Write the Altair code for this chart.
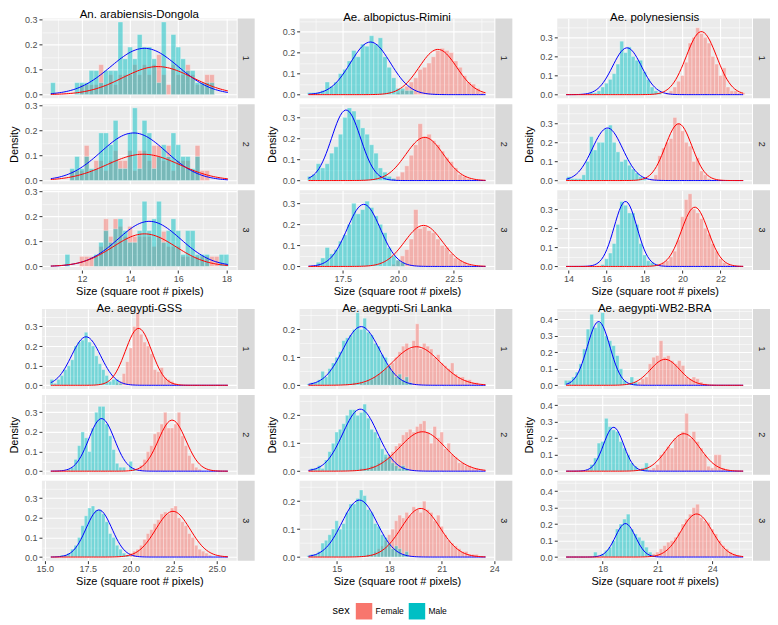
import altair as alt
import pandas as pd

FONT = "Liberation Sans"
BW = 0.2          # histogram bin width
W, H = 195, 80    # plot area of one facet row

titles = ["An. arabiensis-Dongola", "Ae. albopictus-Rimini", "Ae. polynesiensis",
          "Ae. aegypti-GSS", "Ae. aegypti-Sri Lanka", "Ae. aegypti-WB2-BRA"]
reps = ["1", "2", "3"]
sexes = ["Female", "Male"]

# data extent of each panel (x)
x_lo = [10.71, 15.95, 13.87, 15.35, 13.39, 16.0]
x_hi = [18.06, 23.95, 23.2, 25.64, 23.5, 25.7]
x_major = [[12, 14, 16, 18], [17.5, 20, 22.5], [14, 16, 18, 20, 22],
           [15, 17.5, 20, 22.5, 25], [15, 18, 21, 24], [18, 21, 24]]
x_minor = [[11, 13, 15, 17], [16.25, 18.75, 21.25, 23.75], [15, 17, 19, 21, 23],
           [16.25, 18.75, 21.25, 23.75], [13.5, 16.5, 19.5, 22.5], [16.5, 19.5, 22.5, 25.5]]
x_fmt = ["d", ".1f", "d", ".1f", "d", "d"]
y_major = [[0, 0.1, 0.2, 0.3], [0, 0.1, 0.2, 0.3], [0, 0.1, 0.2, 0.3],
           [0, 0.1, 0.2, 0.3], [0, 0.1, 0.2], [0, 0.1, 0.2, 0.3, 0.4]]
y_minor = [[0.05, 0.15, 0.25], [0.05, 0.15, 0.25, 0.35], [0.05, 0.15, 0.25, 0.35],
           [0.05, 0.15, 0.25, 0.35], [0.05, 0.15, 0.25], [0.05, 0.15, 0.25, 0.35, 0.45]]

# ---------------- histogram densities (first bin centre + heights) -------------
# An. arabiensis-Dongola
ara_f_start = [10.8, 10.8, 10.8]
ara_f_1 = [0, 0, 0, 0, 0, 0, 0.04, 0.04, 0.04, 0.04, 0.12, 0.04, 0.08, 0.04, 0.08, 0.08, 0.08, 0.12, 0.08,
           0.12, 0.08, 0.12, 0.16, 0.08, 0.04, 0.12, 0.08, 0.08, 0.12, 0.08, 0.04, 0.04, 0.08, 0.08, 0, 0, 0]
ara_f_2 = [0, 0, 0, 0, 0.04, 0.04, 0.04, 0.14, 0.04, 0.08, 0.08, 0.04, 0.08, 0.12, 0.08, 0.08, 0.12, 0.04,
           0.12, 0.12, 0.08, 0.14, 0.14, 0.08, 0.14, 0.04, 0.08, 0.08, 0.08, 0.04, 0.14, 0.04, 0.04, 0, 0, 0, 0]
ara_f_3 = [0, 0, 0, 0, 0, 0, 0.04, 0.04, 0.04, 0.04, 0.08, 0.19, 0.12, 0.19, 0.16, 0.12, 0.16, 0.12, 0.12,
           0.12, 0.12, 0.08, 0.12, 0.14, 0.08, 0.08, 0.08, 0.04, 0.04, 0.04, 0.04, 0.04, 0.04, 0.04, 0.04, 0, 0]
ara_m_start = [10.8, 10.8, 10.8]
ara_m_1 = [0.048, 0, 0, 0, 0, 0.048, 0.048, 0.048, 0.096, 0.096, 0.048, 0.096, 0.096, 0.096, 0.29, 0.143,
           0.19, 0.143, 0.24, 0.19, 0.19, 0.143, 0.048, 0.29, 0, 0.24, 0.19, 0.143, 0.096, 0.096, 0.048,
           0.048, 0.048, 0.048, 0, 0, 0]
ara_m_2 = [0, 0, 0, 0, 0.048, 0.096, 0.048, 0.096, 0.048, 0.048, 0.19, 0.19, 0.143, 0.24, 0.048, 0.048,
           0.19, 0.29, 0.048, 0.24, 0.19, 0.048, 0.096, 0.143, 0.096, 0.19, 0.143, 0.096, 0.096, 0.048,
           0.096, 0, 0, 0, 0, 0, 0]
ara_m_3 = [0, 0, 0, 0.048, 0, 0, 0, 0, 0, 0.048, 0.096, 0.143, 0.096, 0.15, 0.19, 0.143, 0.096, 0.096,
           0.143, 0.26, 0.143, 0.19, 0.26, 0.096, 0.143, 0.19, 0.143, 0.048, 0.143, 0.143, 0.048, 0.048,
           0.048, 0, 0, 0.048, 0.048]

# Ae. albopictus-Rimini
alb_f_start = [20.0, 19.8, 19.8]
alb_f_1 = [0.01, 0.02, 0.04, 0.06, 0.08, 0.12, 0.13, 0.15, 0.18, 0.21, 0.22, 0.21, 0.20, 0.16, 0.13,
           0.09, 0.06, 0.05, 0.03, 0.01]
alb_f_2 = [0.01, 0.02, 0.04, 0.07, 0.12, 0.17, 0.27, 0.21, 0.22, 0.19, 0.17, 0.14, 0.11, 0.09, 0.06,
           0.03, 0.02, 0.01]
alb_f_3 = [0.01, 0.03, 0.05, 0.08, 0.13, 0.27, 0.18, 0.19, 0.17, 0.16, 0.13, 0.10, 0.09, 0.06, 0.04,
           0.03, 0.02, 0.01]
alb_m_start = [16.0, 16.0, 16.4]
alb_m_1 = [0.01, 0.01, 0.01, 0.02, 0.06, 0.04, 0.06, 0.10, 0.12, 0.16, 0.21, 0.18, 0.24, 0.23, 0.28,
           0.24, 0.27, 0.18, 0.13, 0.08, 0.03, 0.03, 0.02, 0.02]
alb_m_2 = [0.02, 0.03, 0.08, 0.06, 0.08, 0.13, 0.16, 0.22, 0.30, 0.345, 0.33, 0.29, 0.25, 0.22, 0.17,
           0.13, 0.06, 0.04, 0.02, 0.01]
alb_m_3 = [0.02, 0.04, 0.09, 0.06, 0.08, 0.12, 0.15, 0.20, 0.30, 0.25, 0.27, 0.31, 0.28, 0.24, 0.20,
           0.16, 0.09, 0.05, 0.03, 0.02]

# Ae. polynesiensis
pol_f_start = [19.2, 18.4, 18.8]
pol_f_1 = [0.01, 0.02, 0.04, 0.07, 0.10, 0.17, 0.27, 0.30, 0.35, 0.32, 0.30, 0.27, 0.20, 0.16, 0.10,
           0.14, 0.04, 0.02, 0.02, 0.01, 0.01]
pol_f_2 = [0.01, 0.03, 0.13, 0.17, 0.20, 0.22, 0.33, 0.30, 0.26, 0.20, 0.18, 0.10, 0.12, 0.05, 0.03, 0.01]
pol_f_3 = [0.01, 0.02, 0.03, 0.05, 0.08, 0.14, 0.26, 0.35, 0.38, 0.30, 0.28, 0.25, 0.20, 0.17, 0.12,
           0.08, 0.04, 0.02, 0.01]
pol_m_start = [15.2, 14.0, 15.8]
pol_m_1 = [0.01, 0.01, 0.02, 0.04, 0.06, 0.08, 0.11, 0.16, 0.28, 0.22, 0.25, 0.20, 0.18, 0.18, 0.12,
           0.08, 0.04, 0.02, 0.01]
pol_m_2 = [0.02, 0.01, 0.01, 0.01, 0.03, 0.10, 0.23, 0.16, 0.20, 0.20, 0.27, 0.29, 0.20, 0.15, 0.10,
           0.11, 0.08, 0.06, 0.04, 0.02, 0.01]
pol_m_3 = [0.01, 0.04, 0.07, 0.12, 0.22, 0.34, 0.32, 0.28, 0.28, 0.22, 0.12, 0.06, 0.03, 0.02, 0.01]

# Ae. aegypti-GSS
gss_f_start = [19.2, 20.4, 19.8]
gss_f_1 = [0.01, 0.02, 0.06, 0.12, 0.19, 0.30, 0.37, 0.26, 0.22, 0.20, 0.16, 0.08, 0.07, 0.09, 0.04,
           0.03, 0.02, 0.01]
gss_f_2 = [0.01, 0.03, 0.06, 0.10, 0.13, 0.19, 0.20, 0.24, 0.30, 0.22, 0.22, 0.24, 0.30, 0.18, 0.13,
           0.08, 0.04, 0.02, 0.01]
gss_f_3 = [0.01, 0.02, 0.03, 0.04, 0.06, 0.09, 0.12, 0.14, 0.17, 0.19, 0.22, 0.23, 0.22, 0.25, 0.26,
           0.20, 0.18, 0.16, 0.12, 0.10, 0.06, 0.04, 0.03, 0.02, 0.01]
gss_m_start = [15.4, 16.4, 16.0]
gss_m_1 = [0.03, 0.01, 0.03, 0.05, 0.08, 0.10, 0.13, 0.20, 0.22, 0.23, 0.27, 0.22, 0.20, 0.15, 0.11,
           0.08, 0.05, 0.02, 0.03, 0.03, 0.01]
gss_m_2 = [0.01, 0.02, 0.06, 0.13, 0.20, 0.17, 0.10, 0.22, 0.30, 0.33, 0.33, 0.24, 0.18, 0.11, 0.04,
           0.02, 0.02, 0.0, 0.05, 0.01]
gss_m_3 = [0.01, 0.01, 0.02, 0.04, 0.06, 0.10, 0.16, 0.21, 0.25, 0.26, 0.24, 0.24, 0.22, 0.18, 0.12,
           0.10, 0.06, 0.04, 0.02, 0.01]

# Ae. aegypti-Sri Lanka
sri_f_start = [15.6, 16.0, 16.8]
sri_f_1 = [0.005, 0.0, 0.01, 0.0, 0.01, 0.01, 0.02, 0.02, 0.03, 0.04, 0.05, 0.06, 0.07, 0.08, 0.10,
           0.12, 0.14, 0.15, 0.13, 0.16, 0.22, 0.13, 0.15, 0.14, 0.13, 0.10, 0.11, 0.08, 0.07, 0.06,
           0.08, 0.04, 0.03, 0.03, 0.02, 0.02, 0.01, 0.01]
sri_f_2 = [0.005, 0.0, 0.01, 0.01, 0.01, 0.02, 0.02, 0.03, 0.04, 0.05, 0.06, 0.07, 0.09, 0.10, 0.13,
           0.14, 0.15, 0.14, 0.16, 0.17, 0.18, 0.14, 0.10, 0.16, 0.12, 0.14, 0.08, 0.10, 0.06, 0.05,
           0.03, 0.03, 0.02, 0.02, 0.01, 0.01]
sri_f_3 = [0.01, 0.01, 0.02, 0.03, 0.04, 0.06, 0.08, 0.10, 0.13, 0.15, 0.14, 0.16, 0.15, 0.18, 0.17,
           0.16, 0.20, 0.17, 0.16, 0.13, 0.15, 0.11, 0.08, 0.06, 0.05, 0.04, 0.03, 0.02, 0.02, 0.01,
           0.01, 0.01]
sri_m_start = [13.4, 13.6, 13.4]
sri_m_1 = [0.005, 0.01, 0.01, 0.02, 0.05, 0.03, 0.06, 0.08, 0.10, 0.12, 0.16, 0.17, 0.18, 0.20, 0.26,
           0.20, 0.24, 0.19, 0.18, 0.15, 0.14, 0.11, 0.10, 0.07, 0.05, 0.03, 0.04, 0.02, 0.03, 0.01]
sri_m_2 = [0.01, 0.01, 0.02, 0.01, 0.04, 0.07, 0.10, 0.14, 0.15, 0.17, 0.20, 0.22, 0.22, 0.20, 0.21,
           0.24, 0.19, 0.15, 0.14, 0.12, 0.08, 0.06, 0.05, 0.03, 0.02, 0.01, 0.02, 0.01]
sri_m_3 = [0.005, 0.01, 0.01, 0.02, 0.05, 0.06, 0.08, 0.10, 0.13, 0.10, 0.12, 0.16, 0.19, 0.19, 0.21,
           0.24, 0.22, 0.17, 0.16, 0.12, 0.11, 0.08, 0.07, 0.05, 0.03, 0.04, 0.03, 0.01, 0.02]

# Ae. aegypti-WB2-BRA
wb2_f_start = [19.8, 20.6, 20.6]
wb2_f_1 = [0.01, 0.02, 0.04, 0.05, 0.13, 0.17, 0.18, 0.27, 0.17, 0.18, 0.15, 0.13, 0.15, 0.12, 0.05,
           0.04, 0.05, 0.04, 0.02, 0.01]
wb2_f_2 = [0.01, 0.02, 0.04, 0.10, 0.12, 0.15, 0.14, 0.20, 0.22, 0.24, 0.35, 0.20, 0.24, 0.18, 0.14,
           0.10, 0.03, 0.02, 0.10, 0.10, 0.02, 0.01]
wb2_f_3 = [0.01, 0.02, 0.03, 0.05, 0.07, 0.09, 0.10, 0.12, 0.15, 0.20, 0.23, 0.26, 0.30, 0.32, 0.24,
           0.22, 0.21, 0.17, 0.14, 0.10, 0.07, 0.05, 0.03, 0.02, 0.01]
wb2_m_start = [16.0, 17.2, 17.6]
wb2_m_1 = [0.03, 0.03, 0.05, 0.08, 0.13, 0.22, 0.34, 0.43, 0.35, 0.38, 0.44, 0.30, 0.27, 0.24, 0.18,
           0.10, 0.03, 0.01, 0.05, 0.02]
wb2_m_2 = [0.01, 0.04, 0.08, 0.17, 0.18, 0.32, 0.27, 0.25, 0.24, 0.18, 0.14, 0.10, 0.05, 0.03, 0.01,
           0.02, 0.05]
wb2_m_3 = [0.03, 0.0, 0.02, 0.04, 0.06, 0.10, 0.17, 0.20, 0.23, 0.26, 0.17, 0.14, 0.12, 0.10, 0.06,
           0.03, 0.01]

# ---------------- fitted normal curves: mean, sd, peak height per replicate ----
ara_f_mean, ara_f_sd, ara_f_peak = [15.15, 14.55, 14.6], [1.45, 1.5, 1.3], [0.112, 0.105, 0.13]
ara_m_mean, ara_m_sd, ara_m_peak = [14.6, 14.15, 14.8], [1.4, 1.35, 1.3], [0.185, 0.19, 0.18]
alb_f_mean, alb_f_sd, alb_f_peak = [21.8, 21.2, 21.15], [0.85, 0.85, 0.85], [0.215, 0.205, 0.195]
alb_m_mean, alb_m_sd, alb_m_peak = [18.75, 17.65, 18.45], [0.9, 0.65, 0.75], [0.25, 0.335, 0.295]
pol_f_mean, pol_f_sd, pol_f_peak = [21.0, 19.8, 20.65], [0.8, 0.7, 0.7], [0.33, 0.297, 0.31]
pol_m_mean, pol_m_sd, pol_m_peak = [17.08, 16.05, 17.0], [0.76, 0.8, 0.6], [0.245, 0.275, 0.34]
gss_f_mean, gss_f_sd, gss_f_peak = [20.45, 22.4, 22.45], [0.76, 0.8, 1.0], [0.29, 0.26, 0.233]
gss_m_mean, gss_m_sd, gss_m_peak = [17.4, 18.3, 18.15], [0.85, 0.75, 0.75], [0.247, 0.268, 0.24]
sri_f_mean, sri_f_sd, sri_f_peak = [19.55, 19.9, 19.8], [1.35, 1.3, 1.1], [0.138, 0.141, 0.174]
sri_m_mean, sri_m_sd, sri_m_peak = [16.4, 16.35, 16.3], [1.05, 1.0, 1.0], [0.21, 0.222, 0.204]
wb2_f_mean, wb2_f_sd, wb2_f_peak = [21.42, 22.45, 23.15], [0.8, 0.9, 0.85], [0.157, 0.227, 0.261]
wb2_m_mean, wb2_m_sd, wb2_m_peak = [17.78, 18.6, 19.25], [0.62, 0.55, 0.55], [0.386, 0.266, 0.203]

# ---------------- assemble -------------------------------------------------------
hist_f = [[ara_f_1, ara_f_2, ara_f_3], [alb_f_1, alb_f_2, alb_f_3], [pol_f_1, pol_f_2, pol_f_3],
          [gss_f_1, gss_f_2, gss_f_3], [sri_f_1, sri_f_2, sri_f_3], [wb2_f_1, wb2_f_2, wb2_f_3]]
hist_m = [[ara_m_1, ara_m_2, ara_m_3], [alb_m_1, alb_m_2, alb_m_3], [pol_m_1, pol_m_2, pol_m_3],
          [gss_m_1, gss_m_2, gss_m_3], [sri_m_1, sri_m_2, sri_m_3], [wb2_m_1, wb2_m_2, wb2_m_3]]
start_f = [ara_f_start, alb_f_start, pol_f_start, gss_f_start, sri_f_start, wb2_f_start]
start_m = [ara_m_start, alb_m_start, pol_m_start, gss_m_start, sri_m_start, wb2_m_start]
curve_f = [(ara_f_mean, ara_f_sd, ara_f_peak), (alb_f_mean, alb_f_sd, alb_f_peak),
           (pol_f_mean, pol_f_sd, pol_f_peak), (gss_f_mean, gss_f_sd, gss_f_peak),
           (sri_f_mean, sri_f_sd, sri_f_peak), (wb2_f_mean, wb2_f_sd, wb2_f_peak)]
curve_m = [(ara_m_mean, ara_m_sd, ara_m_peak), (alb_m_mean, alb_m_sd, alb_m_peak),
           (pol_m_mean, pol_m_sd, pol_m_peak), (gss_m_mean, gss_m_sd, gss_m_peak),
           (sri_m_mean, sri_m_sd, sri_m_peak), (wb2_m_mean, wb2_m_sd, wb2_m_peak)]

legend = alt.Legend(title="sex", orient="none", legendX=291, legendY=585, direction="horizontal",
                    titleOrient="left", symbolType="square", symbolSize=272, symbolStrokeWidth=0,
                    symbolOpacity=1, labelFontSize=8.5, labelFont=FONT, titleFont=FONT,
                    titleFontSize=11, titleFontWeight="normal", titleColor="black",
                    labelColor="black", labelOffset=3, columnPadding=4, titlePadding=5)
fill_scale = alt.Scale(domain=sexes, range=["#F8766D", "#00BFC4"])


def js(lst):
    return "[" + ",".join(str(v) for v in lst) + "]"


def cond(major, yes, no):
    return {"condition": {"test": f"indexof({js(major)}, datum.value) >= 0", "value": yes}, "value": no}


def cell(p, r):
    rows = []
    for sex, hs, st in (("Female", hist_f[p][r], start_f[p][r]), ("Male", hist_m[p][r], start_m[p][r])):
        for i, v in enumerate(hs):
            if v > 0:
                c = st + i * BW
                rows.append({"sex": sex, "x0": c - BW / 2, "x1": c + BW / 2, "d": v})
    df = pd.DataFrame(rows)
    ymax = max(max(max(h) for h in hist_f[p]), max(max(h) for h in hist_m[p]))
    lo, hi = x_lo[p], x_hi[p]
    rng = hi - lo
    xs = alt.Scale(domain=[lo - 0.05 * rng, hi + 0.05 * rng], nice=False, zero=False)
    ys = alt.Scale(domain=[-0.05 * ymax, 1.05 * ymax], nice=False, zero=False)
    xm, ym = x_major[p], y_major[p]
    common = dict(grid=True, gridColor="white", domain=False, labelFlush=False,
                  labelFont=FONT, titleFont=FONT)
    if r == 2:
        xaxis = alt.Axis(values=xm + x_minor[p], format=x_fmt[p],
                         labelExpr=f"indexof({js(xm)}, datum.value) >= 0 ? datum.label : ''",
                         gridWidth=cond(xm, 1.1, 0.55), tickColor=cond(xm, "#333333", "transparent"),
                         tickSize=3, labelFontSize=9, labelColor="#4D4D4D", labelPadding=1,
                         title="Size (square root # pixels)", titleFontSize=11,
                         titleFontWeight="normal", titleColor="black", titlePadding=2, **common)
    else:
        xaxis = alt.Axis(values=xm + x_minor[p], labels=False, ticks=False, title=None,
                         gridWidth=cond(xm, 1.1, 0.55), **common)
    yaxis = alt.Axis(values=ym + y_minor[p], format=".1f",
                     labelExpr=f"indexof({js(ym)}, datum.value) >= 0 ? datum.label : ''",
                     gridWidth=cond(ym, 1.1, 0.55), tickColor=cond(ym, "#333333", "transparent"),
                     tickSize=3, labelFontSize=9, labelColor="#4D4D4D", labelPadding=2,
                     title="Density", titleFontSize=11, titleFontWeight="normal",
                     titleColor="black" if r == 1 else "transparent", titlePadding=5, **common)

    bars = alt.Chart(df).mark_rect(fillOpacity=0.5, stroke="white", strokeWidth=0.3).encode(
        x=alt.X("x0:Q", scale=xs, axis=xaxis), x2="x1:Q",
        y=alt.Y("d:Q", scale=ys, axis=yaxis), y2=alt.datum(0),
        fill=alt.Fill("sex:N", scale=fill_scale, legend=legend))

    step = rng / 100.0
    mf, sf, pf = (curve_f[p][k][r] for k in range(3))
    mm, sm, pm = (curve_m[p][k][r] for k in range(3))
    base = alt.Chart(alt.sequence(lo, hi + step / 2, step, as_="x")).transform_calculate(
        f=f"{pf}*exp(-0.5*pow((datum.x-{mf})/{sf},2))",
        m=f"{pm}*exp(-0.5*pow((datum.x-{mm})/{sm},2))")
    line_m = base.mark_line(color="#0000FF", strokeWidth=1).encode(
        x=alt.X("x:Q", scale=xs, axis=xaxis), y=alt.Y("m:Q", scale=ys, axis=yaxis))
    line_f = base.mark_line(color="#FF0000", strokeWidth=1).encode(
        x=alt.X("x:Q", scale=xs, axis=xaxis), y=alt.Y("f:Q", scale=ys, axis=yaxis))

    sdf = pd.DataFrame({"rep": [reps[r]]})
    strip_bg = alt.Chart(sdf).mark_rect(fill="#D9D9D9").encode(
        x=alt.value(W + 1), x2=alt.value(W + 18), y=alt.value(0), y2=alt.value(H))
    strip_tx = alt.Chart(sdf).mark_text(angle=90, fontSize=9, color="#1A1A1A", font=FONT).encode(
        x=alt.value(W + 9.5), y=alt.value(H / 2), text="rep:N")

    ch = alt.layer(bars, line_m, line_f, strip_bg, strip_tx).properties(width=W, height=H)
    if r == 0:
        ch = ch.properties(title=alt.TitleParams(titles[p], fontSize=11.5, fontWeight="normal",
                                                 color="black", font=FONT, offset=-5, anchor="middle"))
    return ch


def grid(panels):
    cells = []
    for r in range(3):
        for p in panels:
            cells.append(cell(p, r))
    return alt.concat(*cells, columns=3, bounds="flush", spacing={"row": 6, "column": 63})


chart = alt.vconcat(grid([0, 1, 2]), grid([3, 4, 5]), spacing=6).properties(
    padding=0).configure_view(fill="#EBEBEB", stroke=None)

chart.save("out.html", embed_options={"renderer": "svg", "actions": False})
